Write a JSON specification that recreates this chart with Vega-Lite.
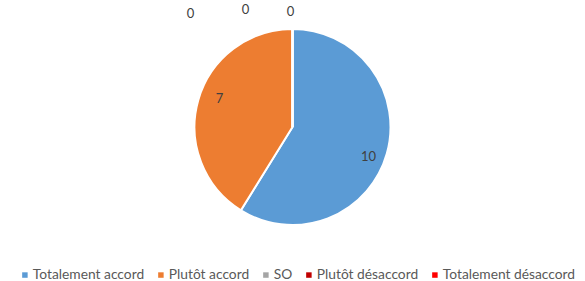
{
  "$schema": "https://vega.github.io/schema/vega-lite/v6.json",
  "width": 585,
  "height": 254,
  "padding": {"left": 0, "top": 0, "right": 0, "bottom": 27},
  "autosize": {"type": "none"},
  "background": "white",
  "data": {
    "values": [
      {"reponse": "Totalement accord", "nombre": 10, "rang": 1},
      {"reponse": "Plutôt accord", "nombre": 7, "rang": 2},
      {"reponse": "SO", "nombre": 0, "rang": 3},
      {"reponse": "Plutôt désaccord", "nombre": 0, "rang": 4},
      {"reponse": "Totalement désaccord", "nombre": 0, "rang": 5}
    ]
  },
  "encoding": {
    "theta": {"field": "nombre", "type": "quantitative", "stack": true},
    "order": {"field": "rang", "type": "quantitative"}
  },
  "layer": [
    {
      "mark": {"type": "arc", "outerRadius": 98, "stroke": "white", "strokeWidth": 2},
      "encoding": {
        "color": {
          "field": "reponse",
          "type": "nominal",
          "scale": {
            "domain": ["Totalement accord", "Plutôt accord", "SO", "Plutôt désaccord", "Totalement désaccord"],
            "range": ["#5B9BD5", "#ED7D31", "#A5A5A5", "#C00000", "#FF0000"]
          },
          "legend": {
            "title": null,
            "orient": "none",
            "legendX": 18,
            "legendY": 268,
            "direction": "horizontal",
            "symbolType": "square",
            "symbolSize": 30,
            "symbolStrokeWidth": 0,
            "labelFont": "Lato",
            "labelFontSize": 13.8,
            "labelColor": "#595959",
            "labelOffset": 1,
            "columnPadding": 9
          }
        }
      }
    },
    {
      "mark": {"type": "text", "radius": 80, "dx": -1, "dy": 8, "font": "Lato", "fontSize": 13, "fill": "#404040"},
      "encoding": {"text": {"condition": {"test": "datum.rang == 1", "field": "nombre", "type": "quantitative"}, "value": ""}}
    },
    {
      "mark": {"type": "text", "radius": 80, "dx": 4, "dy": -6, "font": "Lato", "fontSize": 13, "fill": "#404040"},
      "encoding": {"text": {"condition": {"test": "datum.rang == 2", "field": "nombre", "type": "quantitative"}, "value": ""}}
    },
    {
      "mark": {"type": "text", "radius": 115, "dx": -102, "dy": 2, "font": "Lato", "fontSize": 13, "fill": "#404040"},
      "encoding": {"text": {"condition": {"test": "datum.rang == 3", "field": "nombre", "type": "quantitative"}, "value": ""}}
    },
    {
      "mark": {"type": "text", "radius": 115, "dx": -47, "dy": -2, "font": "Lato", "fontSize": 13, "fill": "#404040"},
      "encoding": {"text": {"condition": {"test": "datum.rang == 4", "field": "nombre", "type": "quantitative"}, "value": ""}}
    },
    {
      "mark": {"type": "text", "radius": 115, "dx": -2, "dy": 0, "font": "Lato", "fontSize": 13, "fill": "#404040"},
      "encoding": {"text": {"condition": {"test": "datum.rang == 5", "field": "nombre", "type": "quantitative"}, "value": ""}}
    }
  ],
  "config": {"view": {"stroke": null}}
}
